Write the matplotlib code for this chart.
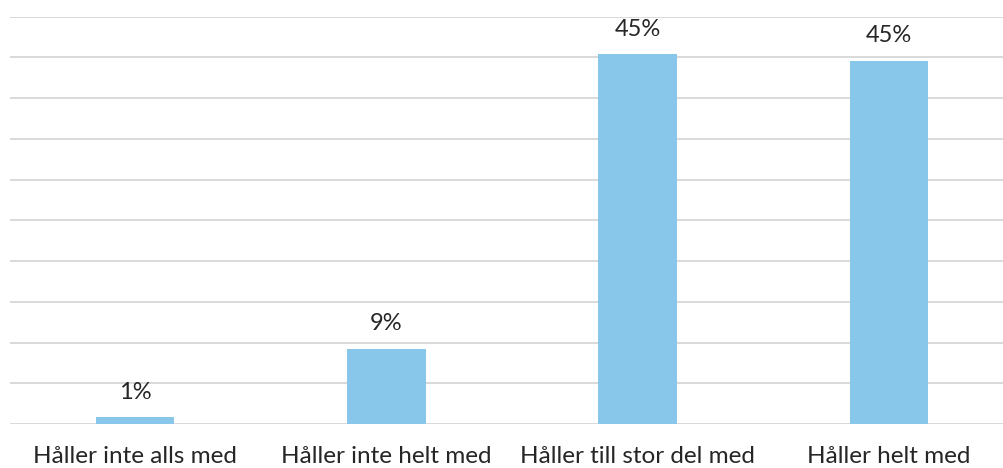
import matplotlib
matplotlib.use("Agg")
import matplotlib.pyplot as plt

plt.rcParams['font.family'] = ['Lato', 'DejaVu Sans']

categories = ["Håller inte alls med", "Håller inte helt med",
              "Håller till stor del med", "Håller helt med"]
values = [0.8, 9.2, 45.4, 44.6]
labels = ["1%", "9%", "45%", "45%"]

fig = plt.figure(figsize=(10.04, 4.68), dpi=100)
# plot area runs a little past the right edge, as in the original
ax = fig.add_axes([9.5 / 1004, 44 / 468, 1005 / 1004, 407.3 / 468])

x = range(len(categories))
bars = ax.bar(x, values, width=0.312, color="#89C7EA", zorder=3)

for b, lab in zip(bars, labels):
    ax.annotate(lab, (b.get_x() + b.get_width() / 2, b.get_height()),
                xytext=(0, 10.5), textcoords="offset points",
                ha="center", va="bottom", fontsize=17, color="#262626")

ax.set_xlim(-0.5, 3.5)
ax.set_ylim(0, 50)
ax.set_yticks(range(0, 51, 5))
ax.yaxis.grid(True, color="#D9D9D9", linewidth=1.4)
ax.set_axisbelow(True)
ax.tick_params(axis="y", left=False, labelleft=False)
ax.tick_params(axis="x", bottom=False, pad=12)
ax.set_xticks(list(x))
ax.set_xticklabels(categories, fontsize=17.5, color="#262626")
for s in ax.spines.values():
    s.set_visible(False)

fig.savefig("out.png", dpi=100)
